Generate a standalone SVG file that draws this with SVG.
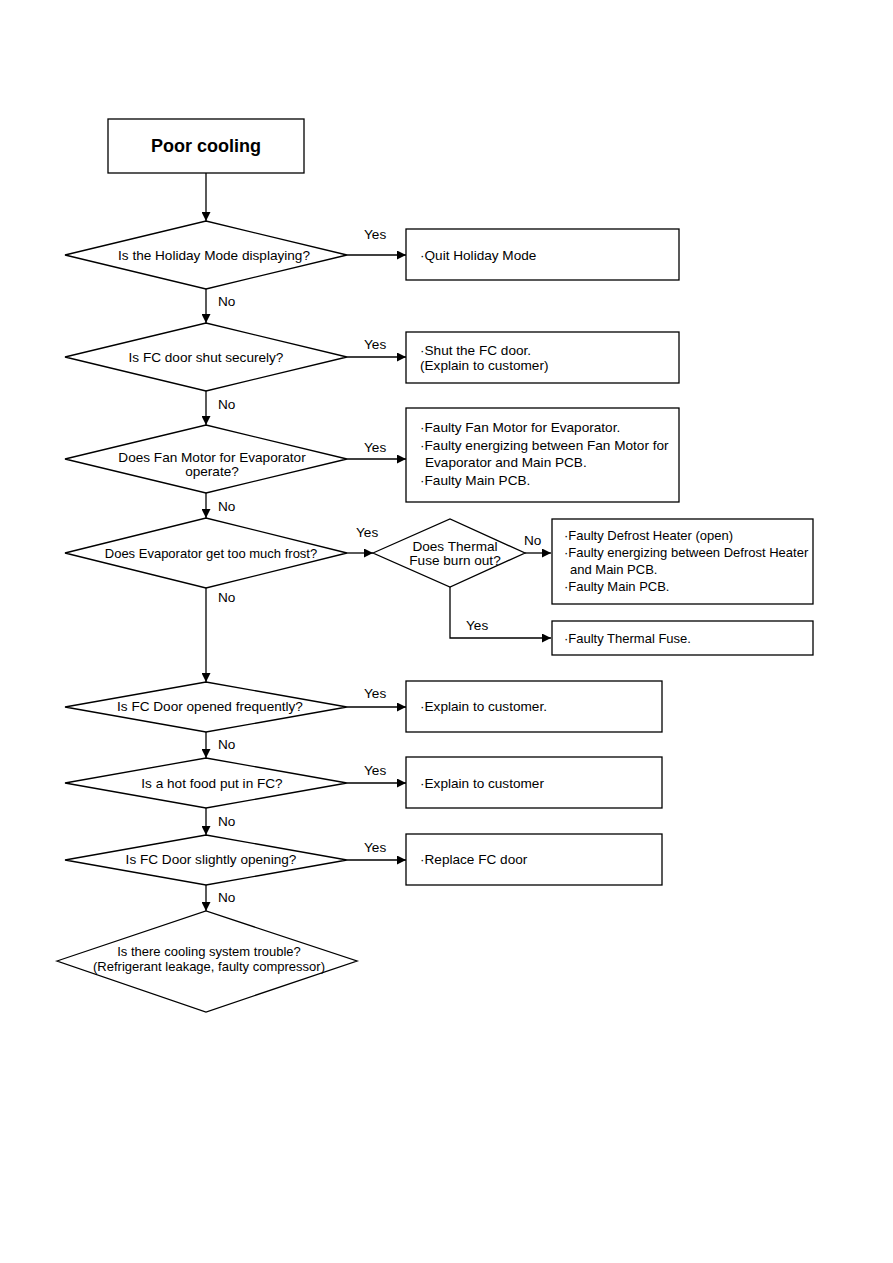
<svg xmlns="http://www.w3.org/2000/svg" width="893" height="1263" viewBox="0 0 893 1263">
<style>
.s{fill:#fff;stroke:#000;stroke-width:1.3}
.t{font-family:"Liberation Sans",Arial,sans-serif;font-size:13.6px;fill:#000}
.n{font-size:13px}
.c{text-anchor:middle}
.l{fill:none;stroke:#000;stroke-width:1.3}
</style>
<defs>
<marker id="a" viewBox="0 0 10 10" refX="10" refY="5" markerWidth="9" markerHeight="9" markerUnits="userSpaceOnUse" orient="auto">
<path d="M0,0 L10,5 L0,10 z" fill="#000"/>
</marker>
</defs>
<rect width="893" height="1263" fill="#fff"/>
<g id="connectors">
<line class="l" x1="206" y1="173" x2="206" y2="221" marker-end="url(#a)"/>
<line class="l" x1="347" y1="255" x2="406" y2="255" marker-end="url(#a)"/>
<line class="l" x1="206" y1="289" x2="206" y2="323" marker-end="url(#a)"/>
<line class="l" x1="347" y1="357" x2="406" y2="357" marker-end="url(#a)"/>
<line class="l" x1="206" y1="391" x2="206" y2="425" marker-end="url(#a)"/>
<line class="l" x1="347" y1="459" x2="406" y2="459" marker-end="url(#a)"/>
<line class="l" x1="206" y1="493" x2="206" y2="518" marker-end="url(#a)"/>
<line class="l" x1="347" y1="553" x2="373" y2="553" marker-end="url(#a)"/>
<line class="l" x1="525" y1="553" x2="551" y2="553" marker-end="url(#a)"/>
<polyline class="l" points="450,587 450,638 551,638" marker-end="url(#a)"/>
<line class="l" x1="206" y1="588" x2="206" y2="682" marker-end="url(#a)"/>
<line class="l" x1="347" y1="707" x2="406" y2="707" marker-end="url(#a)"/>
<line class="l" x1="206" y1="732" x2="206" y2="758" marker-end="url(#a)"/>
<line class="l" x1="347" y1="783" x2="406" y2="783" marker-end="url(#a)"/>
<line class="l" x1="206" y1="808" x2="206" y2="835" marker-end="url(#a)"/>
<line class="l" x1="347" y1="860" x2="406" y2="860" marker-end="url(#a)"/>
<line class="l" x1="206" y1="885" x2="206" y2="911" marker-end="url(#a)"/>
<g class="t">
<text x="364" y="239">Yes</text>
<text x="218" y="306">No</text>
<text x="364" y="349">Yes</text>
<text x="218" y="409">No</text>
<text x="364" y="452">Yes</text>
<text x="218" y="511">No</text>
<text x="356" y="537">Yes</text>
<text x="524" y="545">No</text>
<text x="466" y="630">Yes</text>
<text x="218" y="602">No</text>
<text x="364" y="698">Yes</text>
<text x="218" y="749">No</text>
<text x="364" y="775">Yes</text>
<text x="218" y="826">No</text>
<text x="364" y="852">Yes</text>
<text x="218" y="902">No</text>
</g>
</g>
<g id="start">
<rect class="s" x="108" y="119" width="196" height="54"/>
<text class="t c" x="206" y="152" style="font-size:18px;font-weight:bold">Poor cooling</text>
</g>
<g id="d1">
<polygon class="s" points="65,255 206,221 347,255 206,289"/>
<text class="t c" x="214" y="260">Is the Holiday Mode displaying?</text>
</g>
<g id="b1">
<rect class="s" x="406" y="229" width="273" height="51"/>
<text class="t" x="420" y="260">·Quit Holiday Mode</text>
</g>
<g id="d2">
<polygon class="s" points="65,357 206,323 347,357 206,391"/>
<text class="t c" x="206" y="362">Is FC door shut securely?</text>
</g>
<g id="b2">
<rect class="s" x="406" y="332" width="273" height="51"/>
<text class="t" x="420" y="355">·Shut the FC door.</text>
<text class="t" x="420" y="370">(Explain to customer)</text>
</g>
<g id="d3">
<polygon class="s" points="65,459 206,425 347,459 206,493"/>
<text class="t c" x="212" y="462">Does Fan Motor for Evaporator</text>
<text class="t c" x="212" y="476">operate?</text>
</g>
<g id="b3">
<rect class="s" x="406" y="408" width="273" height="94"/>
<text class="t" x="420" y="432">·Faulty Fan Motor for Evaporator.</text>
<text class="t" x="420" y="450">·Faulty energizing between Fan Motor for</text>
<text class="t" x="425" y="467">Evaporator and Main PCB.</text>
<text class="t" x="420" y="485">·Faulty Main PCB.</text>
</g>
<g id="d4">
<polygon class="s" points="65,553 206,518 347,553 206,588"/>
<text class="t n c" x="211" y="558">Does Evaporator get too much frost?</text>
</g>
<g id="d5">
<polygon class="s" points="373,553 450,519 525,553 450,587"/>
<text class="t c" x="455" y="551">Does Thermal</text>
<text class="t c" x="455" y="565">Fuse burn out?</text>
</g>
<g id="b5">
<rect class="s" x="552" y="519" width="261" height="85"/>
<text class="t n" x="564" y="540">·Faulty Defrost Heater (open)</text>
<text class="t n" x="564" y="557">·Faulty energizing between Defrost Heater</text>
<text class="t n" x="570" y="574">and Main PCB.</text>
<text class="t n" x="564" y="591">·Faulty Main PCB.</text>
</g>
<g id="b6">
<rect class="s" x="552" y="621" width="261" height="34"/>
<text class="t n" x="564" y="643">·Faulty Thermal Fuse.</text>
</g>
<g id="d6">
<polygon class="s" points="65,707 206,682 347,707 206,732"/>
<text class="t c" x="210" y="711">Is FC Door opened frequently?</text>
</g>
<g id="b7">
<rect class="s" x="406" y="681" width="256" height="51"/>
<text class="t" x="420" y="711">·Explain to customer.</text>
</g>
<g id="d7">
<polygon class="s" points="65,783 206,758 347,783 206,808"/>
<text class="t c" x="212" y="788">Is a hot food put in FC?</text>
</g>
<g id="b8">
<rect class="s" x="406" y="757" width="256" height="51"/>
<text class="t" x="420" y="788">·Explain to customer</text>
</g>
<g id="d8">
<polygon class="s" points="65,860 206,835 347,860 206,885"/>
<text class="t c" x="211" y="864">Is FC Door slightly opening?</text>
</g>
<g id="b9">
<rect class="s" x="406" y="834" width="256" height="51"/>
<text class="t" x="420" y="864">·Replace FC door</text>
</g>
<g id="d9">
<polygon class="s" points="57,961 206,911 357,961 206,1012"/>
<text class="t n c" x="209" y="956">Is there cooling system trouble?</text>
<text class="t n c" x="209" y="971">(Refrigerant leakage, faulty compressor)</text>
</g>
</svg>
